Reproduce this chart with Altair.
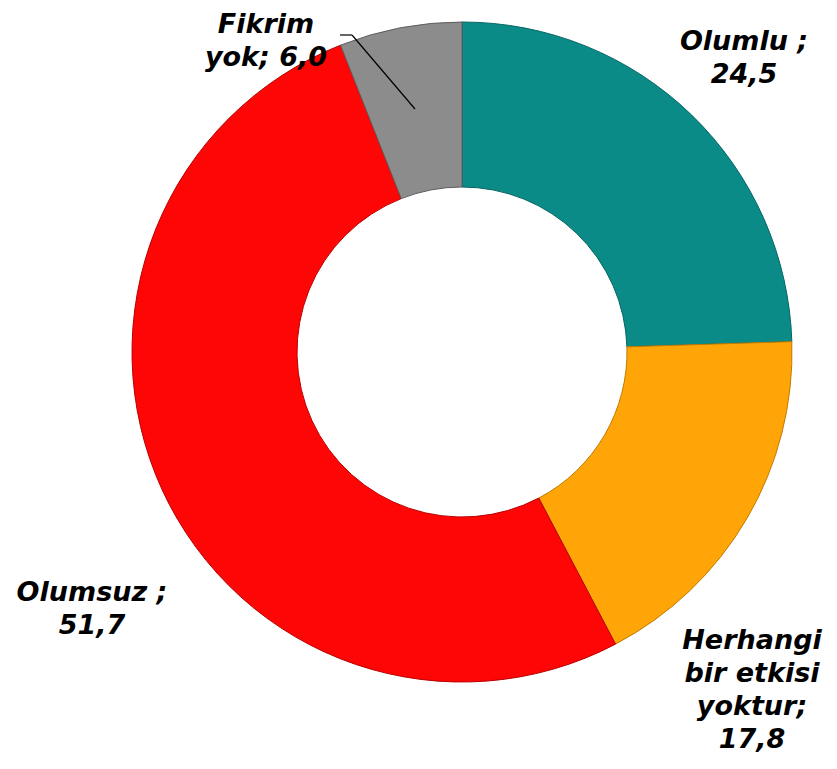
import altair as alt
import pandas as pd

categories = ["Olumlu", "Herhangi bir etkisi yoktur", "Olumsuz", "Fikrim yok"]
values = [24.5, 17.8, 51.7, 6.0]
label_lines = [
    ["Olumlu ;", "24,5"],
    ["Herhangi", "bir etkisi", "yoktur;", "17,8"],
    ["Olumsuz ;", "51,7"],
    ["Fikrim", "yok; 6,0"],
]
colors = ["#0A8B88", "#FFA508", "#FF0606", "#8C8C8C"]
strokes = ["#066563", "#C07A00", "#B80000", "#5E5E5E"]

df = pd.DataFrame({"cat": categories, "val": values, "idx": list(range(len(values)))})

W, H = 821, 753
CX, CY = 454, 344

color_scale = alt.Scale(domain=categories, range=colors)
stroke_scale = alt.Scale(domain=categories, range=strokes)

arcs = alt.Chart(df).mark_arc(
    innerRadius=165, outerRadius=330, strokeWidth=1
).encode(
    theta=alt.Theta("val:Q", stack=True),
    order=alt.Order("idx:Q"),
    color=alt.Color("cat:N", scale=color_scale, legend=None),
    stroke=alt.Stroke("cat:N", scale=stroke_scale, legend=None),
    x=alt.value(CX),
    y=alt.value(CY),
)

# first-line centres of each label (page coords minus margin)
label_pos = [(736, 34), (744, 633), (84, 585), (258, 17)]
font_kw = dict(font="DejaVu Sans", fontSize=27, fontWeight="bold", fontStyle="italic",
               color="black", align="center", baseline="middle", lineHeight=33)

texts = []
for (lx, ly), lines in zip(label_pos, label_lines):
    t = alt.Chart(pd.DataFrame({"t": [lines]})).mark_text(**font_kw).encode(
        text=alt.Text("t"),
        x=alt.value(lx),
        y=alt.value(ly),
    )
    texts.append(t)

seg1 = alt.Chart(pd.DataFrame({"a": [0]})).mark_rule(color="black", strokeWidth=1.2).encode(
    x=alt.value(332), x2=alt.value(344), y=alt.value(27), y2=alt.value(27))
seg2 = alt.Chart(pd.DataFrame({"a": [0]})).mark_rule(color="black", strokeWidth=1.2).encode(
    x=alt.value(344), x2=alt.value(407), y=alt.value(27), y2=alt.value(101))

chart = alt.layer(arcs, seg1, seg2, *texts).properties(
    width=W, height=H, padding=0, autosize=alt.AutoSizeParams(type="none")
).configure_view(stroke=None)

chart.save("out.html", embed_options={"renderer": "svg", "actions": False})
